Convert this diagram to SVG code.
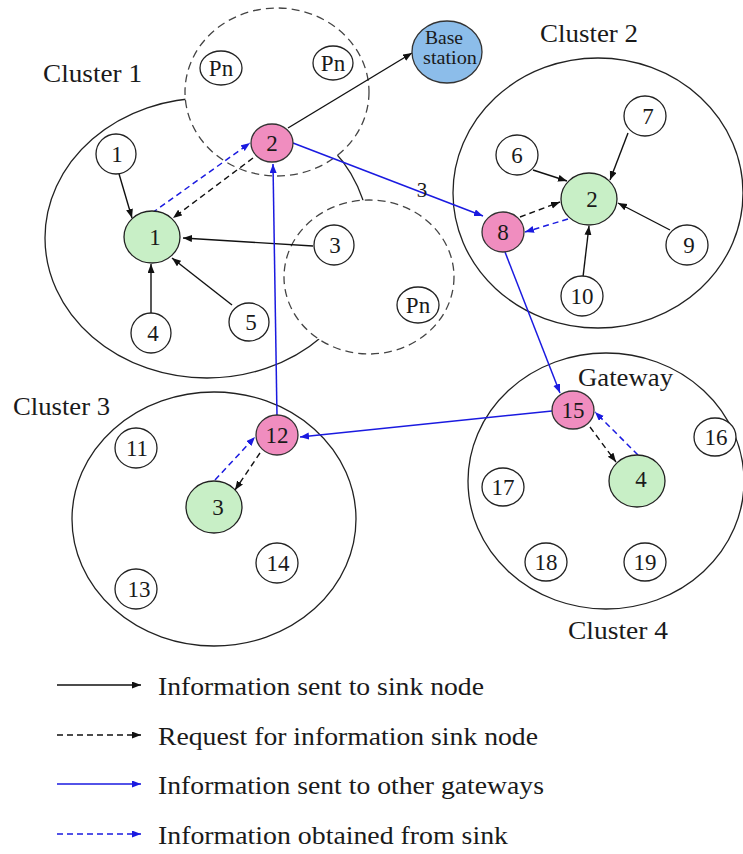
<svg xmlns="http://www.w3.org/2000/svg" width="743" height="854" viewBox="0 0 743 854">
<defs>
<marker id="ak" markerUnits="userSpaceOnUse" markerWidth="10" markerHeight="8" refX="9" refY="3.5" orient="auto"><path d="M0,0 L9,3.5 L0,7 z" fill="#111"/></marker>
<marker id="ab" markerUnits="userSpaceOnUse" markerWidth="10" markerHeight="8" refX="9" refY="3.5" orient="auto"><path d="M0,0 L9,3.5 L0,7 z" fill="#1a1ae0"/></marker>
</defs>
<style>
text{font-family:"Liberation Serif","Times New Roman",serif;fill:#1a1a1a}
.cl{fill:none;stroke:#222;stroke-width:1.3}
.pz{fill:#fff;stroke:#444;stroke-width:1.3;stroke-dasharray:8 5}
.n{fill:#fff;stroke:#222;stroke-width:1.3}
.g{fill:#c8efc6;stroke:#222;stroke-width:1.3}
.p{fill:#f08dbf;stroke:#333;stroke-width:1.3}
.b{fill:#8cbdea;stroke:#333;stroke-width:1.3}
.num{font-size:23px;text-anchor:middle}
.lab{font-size:25px}
.k{stroke:#111;stroke-width:1.4;fill:none;marker-end:url(#ak)}
.kd{stroke:#111;stroke-width:1.4;fill:none;stroke-dasharray:6 4;marker-end:url(#ak)}
.bl{stroke:#1a1ae0;stroke-width:1.5;fill:none;marker-end:url(#ab)}
.bd{stroke:#1a1ae0;stroke-width:1.5;fill:none;stroke-dasharray:6 4;marker-end:url(#ab)}
</style>
<rect width="743" height="854" fill="#fff"/>

<g id="clusters">
<ellipse class="cl" cx="207" cy="238" rx="162" ry="140"/>
<ellipse class="pz" cx="277" cy="92" rx="92" ry="84"/>
<ellipse class="pz" cx="369" cy="277" rx="85" ry="77"/>
<ellipse class="cl" cx="598" cy="193" rx="145" ry="135"/>
<ellipse class="cl" cx="214" cy="519" rx="142" ry="127"/>
<ellipse class="cl" cx="606" cy="481" rx="138" ry="128"/>
<text class="lab" x="43" y="82" textLength="99" lengthAdjust="spacingAndGlyphs">Cluster 1</text>
<text class="lab" x="540" y="42" textLength="98" lengthAdjust="spacingAndGlyphs">Cluster 2</text>
<text class="lab" x="13" y="415" textLength="97" lengthAdjust="spacingAndGlyphs">Cluster 3</text>
<text class="lab" x="568" y="639" textLength="100" lengthAdjust="spacingAndGlyphs">Cluster 4</text>
<text class="lab" x="578" y="386" textLength="95" lengthAdjust="spacingAndGlyphs">Gateway</text>
</g>

<g id="connectors">
<line class="k" x1="117" y1="167" x2="132" y2="218"/>
<line class="k" x1="151" y1="313" x2="151" y2="264"/>
<line class="k" x1="232" y1="305" x2="172" y2="258"/>
<line class="k" x1="313" y1="246" x2="183" y2="238"/>
<line class="kd" x1="253" y1="158" x2="173" y2="218"/>
<line class="bd" x1="152" y1="213" x2="250" y2="143"/>
<line class="k" x1="288" y1="128" x2="412" y2="53"/>
<line class="bl" x1="293" y1="143" x2="483" y2="216"/>
<text x="422" y="197" style="font-size:21px;text-anchor:middle">3</text>
<line class="bl" x1="277" y1="416" x2="273" y2="164"/>
<line class="bl" x1="505" y1="252" x2="560" y2="393"/>
<line class="bl" x1="552" y1="411" x2="300" y2="437"/>
<line class="bd" x1="215" y1="480" x2="255" y2="437"/>
<line class="kd" x1="260" y1="453" x2="235" y2="490"/>
<line class="kd" x1="590" y1="427" x2="616" y2="462"/>
<line class="bd" x1="638" y1="455" x2="595" y2="412"/>
<line class="k" x1="628" y1="133" x2="610" y2="180"/>
<line class="k" x1="533" y1="170" x2="567" y2="181"/>
<line class="k" x1="670" y1="230" x2="618" y2="203"/>
<line class="k" x1="583" y1="277" x2="589" y2="226"/>
<line class="kd" x1="520" y1="217" x2="560" y2="202"/>
<line class="bd" x1="568" y1="219" x2="525" y2="232"/>
</g>

<g id="node-pn1"><ellipse class="n" cx="221" cy="68" rx="21" ry="17"/><text class="num" x="221" y="76">Pn</text></g>
<g id="node-pn2"><ellipse class="n" cx="333" cy="63" rx="20" ry="17"/><text class="num" x="333" y="71">Pn</text></g>
<g id="node-pn3"><ellipse class="n" cx="418" cy="305" rx="21" ry="18"/><text class="num" x="418" y="313">Pn</text></g>
<g id="node-base"><ellipse class="b" cx="447" cy="52" rx="35" ry="31"/><text x="444" y="44" style="font-size:18px;text-anchor:middle" textLength="38" lengthAdjust="spacingAndGlyphs">Base</text><text x="450" y="64" style="font-size:18px;text-anchor:middle" textLength="54" lengthAdjust="spacingAndGlyphs">station</text></g>
<g id="node-c1-2"><ellipse class="p" cx="272" cy="143" rx="21" ry="19"/><text class="num" x="272" y="151">2</text></g>
<g id="node-c1-sink1"><ellipse class="g" cx="152" cy="237" rx="28" ry="26"/><text class="num" x="155" y="245">1</text></g>
<g id="node-c1-1"><ellipse class="n" cx="116" cy="154" rx="20" ry="20"/><text class="num" x="117" y="162">1</text></g>
<g id="node-c1-3"><ellipse class="n" cx="334" cy="245" rx="20" ry="20"/><text class="num" x="335" y="253">3</text></g>
<g id="node-c1-4"><ellipse class="n" cx="151" cy="333" rx="20" ry="20"/><text class="num" x="153" y="341">4</text></g>
<g id="node-c1-5"><ellipse class="n" cx="249" cy="322" rx="20" ry="19"/><text class="num" x="251" y="330">5</text></g>

<g id="node-c2-8"><ellipse class="p" cx="503" cy="232" rx="21" ry="20"/><text class="num" x="503" y="240">8</text></g>
<g id="node-c2-sink2"><ellipse class="g" cx="589" cy="199" rx="28" ry="26"/><text class="num" x="592" y="207">2</text></g>
<g id="node-c2-6"><ellipse class="n" cx="517" cy="155" rx="21" ry="20"/><text class="num" x="517" y="163">6</text></g>
<g id="node-c2-7"><ellipse class="n" cx="645" cy="116" rx="21" ry="20"/><text class="num" x="648" y="124">7</text></g>
<g id="node-c2-9"><ellipse class="n" cx="687" cy="245" rx="21" ry="20"/><text class="num" x="689" y="253">9</text></g>
<g id="node-c2-10"><ellipse class="n" cx="582" cy="296" rx="21" ry="20"/><text class="num" x="582" y="304">10</text></g>

<g id="node-c3-12"><ellipse class="p" cx="277" cy="435" rx="21" ry="20"/><text class="num" x="277" y="443">12</text></g>
<g id="node-c3-sink3"><ellipse class="g" cx="214" cy="507" rx="28" ry="26"/><text class="num" x="218" y="515">3</text></g>
<g id="node-c3-11"><ellipse class="n" cx="136" cy="448" rx="21" ry="20"/><text class="num" x="137" y="456">11</text></g>
<g id="node-c3-13"><ellipse class="n" cx="136" cy="589" rx="21" ry="20"/><text class="num" x="139" y="597">13</text></g>
<g id="node-c3-14"><ellipse class="n" cx="277" cy="563" rx="21" ry="20"/><text class="num" x="278" y="571">14</text></g>

<g id="node-c4-15"><ellipse class="p" cx="573" cy="410" rx="21" ry="19"/><text class="num" x="573" y="418">15</text></g>
<g id="node-c4-sink4"><ellipse class="g" cx="637" cy="481" rx="28" ry="26"/><text class="num" x="641" y="487">4</text></g>
<g id="node-c4-16"><ellipse class="n" cx="715" cy="437" rx="21" ry="19"/><text class="num" x="716" y="445">16</text></g>
<g id="node-c4-17"><ellipse class="n" cx="503" cy="487" rx="21" ry="19"/><text class="num" x="503" y="495">17</text></g>
<g id="node-c4-18"><ellipse class="n" cx="546" cy="562" rx="21" ry="19"/><text class="num" x="546" y="570">18</text></g>
<g id="node-c4-19"><ellipse class="n" cx="645" cy="562" rx="21" ry="19"/><text class="num" x="645" y="570">19</text></g>

<g id="legend">
<line class="k" x1="57" y1="685" x2="141" y2="685"/>
<text class="lab" x="158" y="695" textLength="326" lengthAdjust="spacingAndGlyphs">Information sent to sink node</text>
<line class="kd" x1="57" y1="735" x2="141" y2="735"/>
<text class="lab" x="158" y="745" textLength="380" lengthAdjust="spacingAndGlyphs">Request for information sink node</text>
<line class="bl" x1="57" y1="784" x2="141" y2="784"/>
<text class="lab" x="158" y="794" textLength="386" lengthAdjust="spacingAndGlyphs">Information sent to other gateways</text>
<line class="bd" x1="57" y1="834" x2="141" y2="834"/>
<text class="lab" x="158" y="844" textLength="350" lengthAdjust="spacingAndGlyphs">Information obtained from sink</text>
</g>
</svg>
